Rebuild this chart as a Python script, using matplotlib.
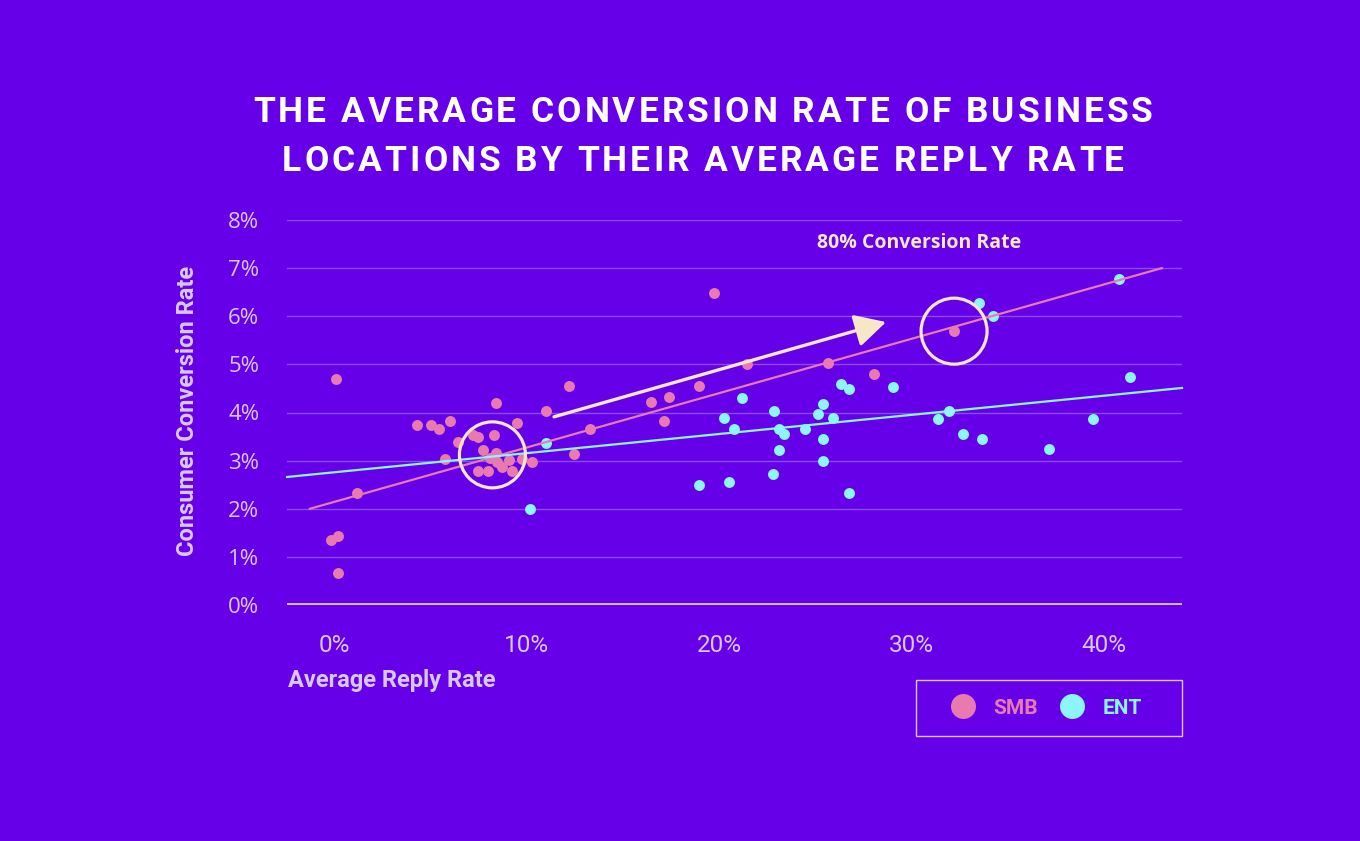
import matplotlib
matplotlib.use("Agg")
import matplotlib.pyplot as plt
from matplotlib.patches import Ellipse, Rectangle
from matplotlib.lines import Line2D

# -----------------------------
# data
# -----------------------------
smb_x = [0.10, -0.16, 0.21, 0.21, 1.19, 4.31, 5.04, 5.45, 6.03, 5.77, 6.44, 7.22, 7.48,
         8.31, 8.42, 9.51, 11.01, 7.74, 8.42, 8.10, 8.47, 9.09, 9.77, 10.29, 7.48, 8.00,
         8.73, 9.25, 12.21, 12.47, 13.30, 16.47, 17.40, 17.14, 18.96, 19.74, 21.45, 25.66,
         28.05, 32.21]
smb_y = [4.70, 1.35, 1.43, 0.66, 2.33, 3.74, 3.74, 3.66, 3.82, 3.03, 3.39, 3.53, 3.49,
         3.53, 4.20, 3.78, 4.03, 3.22, 3.16, 3.05, 2.97, 3.01, 3.03, 2.97, 2.78, 2.78,
         2.87, 2.78, 4.55, 3.14, 3.66, 4.22, 4.32, 3.82, 4.55, 6.48, 5.01, 5.03,
         4.80, 5.69]

ent_x = [11.01, 10.18, 21.19, 22.86, 20.26, 20.78, 23.12, 23.38, 23.12, 22.81, 18.96,
         20.52, 24.47, 25.40, 25.14, 25.92, 25.40, 25.40, 26.75, 26.34, 26.75, 29.04,
         33.51, 34.23, 40.78, 41.35, 31.95, 31.38, 32.68, 33.66, 37.14, 39.43]
ent_y = [3.37, 1.99, 4.30, 4.03, 3.89, 3.66, 3.66, 3.55, 3.22, 2.72, 2.49,
         2.56, 3.66, 4.18, 3.97, 3.89, 3.45, 2.99, 2.33, 4.59, 4.49, 4.53,
         6.28, 6.01, 6.77, 4.74, 4.03, 3.86, 3.55, 3.45, 3.24, 3.86]

# trend lines (end points)
smb_trend_x = [-1.25, 43.0]
smb_trend_y = [2.0, 7.0]
ent_trend_x = [-2.44, 44.05]
ent_trend_y = [2.66, 4.51]

# highlights
circle_x = [8.23, 32.21]
circle_y = [3.12, 5.69]
arrow_start = (11.43, 3.91)
arrow_end = (28.68, 5.88)

x_ticks = [0, 10, 20, 30, 40]
y_ticks = [0, 1, 2, 3, 4, 5, 6, 7, 8]

# -----------------------------
# styles
# -----------------------------
BG = "#6500E8"
PINK = "#E97AAF"
CYAN = "#8CF6FF"
CREAM = "#F6E7C6"
LAV = "#D9C8FF"
GRID = "#8A4CF2"

COND = ["Roboto", "DejaVu Sans"]
SANS = ["Open Sans", "DejaVu Sans"]

fig = plt.figure(figsize=(13.6, 8.41), dpi=100, facecolor=BG)
ax = fig.add_axes([287 / 1360, 1 - 605 / 841, 895 / 1360, 385 / 841])
ax.set_facecolor(BG)
ax.set_xlim(-2.44, 44.05)
ax.set_ylim(0, 8)
for s in ax.spines.values():
    s.set_visible(False)

# grid
for yv in y_ticks[1:]:
    ax.axhline(yv, color=GRID, lw=1, zorder=1)
ax.axhline(0, color="#D4BDFF", lw=2.8, zorder=1)

ax.set_xticks(x_ticks)
ax.set_xticklabels([f"{v}%" for v in x_ticks])
ax.set_yticks(y_ticks)
ax.set_yticklabels([f"{v}%" for v in y_ticks])
ax.tick_params(axis="both", length=0, colors=LAV)
ax.tick_params(axis="x", pad=21)
ax.tick_params(axis="y", pad=20)
for lab in ax.get_xticklabels():
    lab.set_family(COND)
    lab.set_fontsize(17.5)
for lab in ax.get_yticklabels():
    lab.set_family(SANS)
    lab.set_fontsize(16)

# points
ax.scatter(smb_x, smb_y, s=62, color=PINK, lw=0, zorder=3, clip_on=False)
ax.scatter(ent_x, ent_y, s=62, color=CYAN, lw=0, zorder=3, clip_on=False)

# trend lines
ax.plot(smb_trend_x, smb_trend_y, color=PINK, lw=1.6, zorder=4)
ax.plot(ent_trend_x, ent_trend_y, color=CYAN, lw=1.6, zorder=4, clip_on=False)

# circles (round on screen)
px_x = 895 / (44.05 + 2.44)
px_y = 385 / 8
for cx, cy in zip(circle_x, circle_y):
    ax.add_patch(Ellipse((cx, cy), 2 * 33 / px_x, 2 * 33 / px_y, fill=False,
                         ec=CREAM, lw=2.3, zorder=5))

ax.annotate("", xy=arrow_end, xytext=arrow_start,
            arrowprops=dict(arrowstyle="-|>,head_length=0.95,head_width=0.5",
                            mutation_scale=20, color=CREAM, lw=2.4,
                            shrinkA=0, shrinkB=0), zorder=5)

fig.text(919 / 1360, 1 - 243 / 841, "80% Conversion Rate", color=CREAM,
         fontsize=14, fontweight="bold", family=SANS, ha="center", va="center")

# axis labels
fig.text(187 / 1360, 1 - 411 / 841, "Consumer Conversion Rate", rotation=90,
         color=LAV, fontsize=17, fontweight="bold", family=COND,
         ha="center", va="center")
fig.text(288 / 1360, 1 - 681 / 841, "Average Reply Rate", color=LAV,
         fontsize=17, fontweight="bold", family=COND, ha="left", va="center")


# -----------------------------
# title with letter spacing
# -----------------------------
def tracked_text(xc, y, s, spacing, **kw):
    r = fig.canvas.get_renderer()

    def width(txt):
        t = fig.text(0, 0, txt, **kw)
        w = t.get_window_extent(r).width
        t.remove()
        return w

    ref = width("I")
    offs = [width(s[:i] + "I") - ref + i * spacing for i in range(len(s))]
    total = width(s) + spacing * (len(s) - 1)
    x0 = xc * fig.bbox.width - total / 2
    for ch, o in zip(s, offs):
        if ch != " ":
            fig.text((x0 + o) / fig.bbox.width, y, ch, ha="left", va="baseline", **kw)


title_kw = dict(color="white", fontsize=25.5, fontweight="bold", family=COND)
tracked_text(703 / 1360, 1 - 122 / 841, "THE AVERAGE CONVERSION RATE OF BUSINESS", 3.0, **title_kw)
tracked_text(703 / 1360, 1 - 171 / 841, "LOCATIONS BY THEIR AVERAGE REPLY RATE", 3.0, **title_kw)

# -----------------------------
# legend
# -----------------------------
fig.patches.append(Rectangle((916 / 1360, 1 - 736 / 841), 266 / 1360, 56 / 841,
                             transform=fig.transFigure, fill=False, ec=LAV, lw=1))
handles = [
    Line2D([], [], ls="", marker="o", ms=18, mfc=PINK, mec="none", label="SMB"),
    Line2D([], [], ls="", marker="o", ms=18, mfc=CYAN, mec="none", label="ENT"),
]
leg = fig.legend(handles=handles, loc="center", ncol=2, frameon=False,
                 bbox_to_anchor=(1046 / 1360, 1 - 708 / 841),
                 prop=dict(family=COND, weight="bold", size=15),
                 handletextpad=0.85, columnspacing=1.05, handlelength=1.2)
for t, c in zip(leg.get_texts(), [PINK, CYAN]):
    t.set_color(c)

fig.savefig("out.png", dpi=100, facecolor=BG)
